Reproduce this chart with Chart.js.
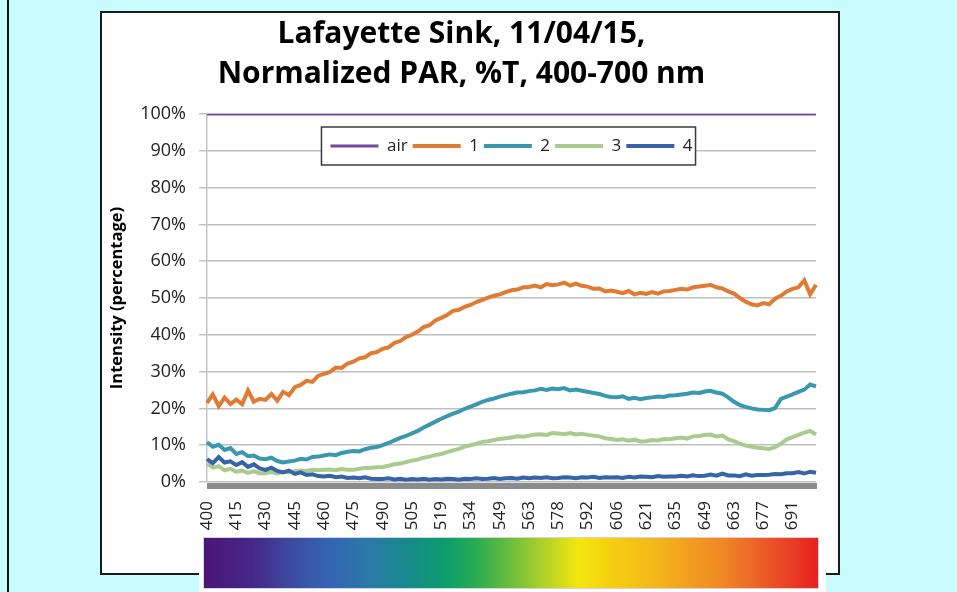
<!DOCTYPE html>
<html>
<head>
<meta charset="utf-8">
<script src="https://cdn.jsdelivr.net/npm/chart.js@4.4.1/dist/chart.umd.min.js"></script>
<style>
  html, body { margin: 0; padding: 0; }
  body { width: 957px; height: 592px; background: #C8FCFE; position: relative; overflow: hidden; font-family: "Open Sans", sans-serif; }
  #leftline { position: absolute; left: 7px; top: 0; width: 2px; height: 592px; background: #111; }
  #box { position: absolute; left: 100px; top: 11px; width: 736px; height: 560px; border: 2px solid #1a1a1a; background: #fff; }
  #box canvas { position: absolute; left: 0; top: 0; }
  #specback { position: absolute; left: 199px; top: 536px; width: 627px; height: 56px; background: #fff; }
  #spectrum { position: absolute; left: 203px; top: 537px; width: 614px; height: 50px; border: 1px solid #d8d0e0;
    background: linear-gradient(to right, #4A1675 0%, #46288A 8%, #3B4FA3 15%, #3466B5 21%, #2A7AA6 27%, #17898D 33%, #0C9C6E 39%, #25AC52 44%, #6DBE3C 50%, #B8D424 56%, #F3E70D 61%, #F5D010 66%, #F4B91A 73%, #F29E20 79%, #F08A24 84%, #EC6A28 89%, #EA4826 94%, #E72020 100%); }
</style>
</head>
<body>
<div id="leftline"></div>
<div id="box"><canvas id="c" width="736" height="560"></canvas></div>
<div id="specback"></div>
<div id="spectrum"></div>
<script>
// ---- data ----
const tickLabels = [400,415,430,445,460,475,490,505,519,534,549,563,578,592,606,621,635,649,663,677,691];

const wavelengths = [
  400,403,406,409,412, 415,418,421,424,427, 430,433,436,439,442, 445,448,451,454,457,
  460,463,466,469,472, 475,478,481,484,487, 490,493,496,499,502, 505,508,511,513,516,
  519,522,525,528,531, 534,537,540,543,546, 549,552,555,557,560, 563,566,569,572,575,
  578,581,584,586,589, 592,595,598,600,603, 606,609,612,615,618, 621,624,627,629,632,
  635,638,641,643,646, 649,652,655,657,660, 663,666,669,671,674, 677,680,683,685,688,
  691,694,697,699,702
];

const seriesNames = ['air','1','2','3','4'];

const airValues = [
  100,100,100,100,100, 100,100,100,100,100, 100,100,100,100,100, 100,100,100,100,100,
  100,100,100,100,100, 100,100,100,100,100, 100,100,100,100,100, 100,100,100,100,100,
  100,100,100,100,100, 100,100,100,100,100, 100,100,100,100,100, 100,100,100,100,100,
  100,100,100,100,100, 100,100,100,100,100, 100,100,100,100,100, 100,100,100,100,100,
  100,100,100,100,100, 100,100,100,100,100, 100,100,100,100,100, 100,100,100,100,100,
  100,100,100,100,100
];

const s1Values = [
  21.5,23.8,20.6,22.9,21.2, 22.4,21.1,24.9,21.8,22.6, 22.3,23.9,22.1,24.5,23.6, 25.8,26.4,27.5,27.2,28.9,
  29.4,29.9,31.1,31.0,32.2, 32.7,33.6,33.9,35.0,35.3, 36.2,36.6,37.8,38.3,39.4, 40.0,40.9,42.1,42.6,43.9,
  44.6,45.4,46.5,46.8,47.6, 48.1,48.9,49.5,50.1,50.6, 51.0,51.6,52.1,52.3,52.9, 53.0,53.4,52.9,53.8,53.5,
  53.7,54.2,53.4,53.9,53.3, 53.1,52.5,52.6,51.8,52.0, 51.7,51.3,51.9,51.0,51.4, 51.1,51.6,51.2,51.8,51.9,
  52.2,52.5,52.3,52.9,53.1, 53.3,53.6,52.9,52.6,51.8, 51.2,50.0,49.0,48.3,48.0, 48.6,48.3,49.8,50.6,51.8,
  52.5,52.9,54.8,51.0,53.6
];

const s2Values = [
  10.8,9.6,10.1,8.7,9.2, 7.6,8.1,7.0,7.2,6.4, 6.2,6.6,5.7,5.3,5.6, 5.8,6.3,6.1,6.8,6.9,
  7.2,7.5,7.3,7.9,8.2, 8.4,8.3,8.9,9.3,9.5, 10.0,10.6,11.3,12.0,12.5, 13.2,13.9,14.8,15.6,16.4,
  17.2,17.9,18.6,19.1,19.9, 20.5,21.1,21.8,22.3,22.7, 23.2,23.6,24.0,24.3,24.4, 24.7,24.9,25.3,25.0,25.4,
  25.2,25.5,24.9,25.1,24.8, 24.5,24.2,23.9,23.4,23.1, 23.0,23.3,22.6,22.9,22.5, 22.8,23.0,23.2,23.1,23.5,
  23.6,23.8,24.0,24.3,24.2, 24.6,24.8,24.3,24.0,23.0, 21.8,20.9,20.4,20.0,19.7, 19.6,19.5,20.1,22.6,23.2,
  23.8,24.5,25.1,26.5,26.0
];

const s3Values = [
  5.0,3.9,4.3,3.2,3.6, 2.8,3.1,2.5,2.9,2.4, 2.4,2.7,2.3,2.8,2.6, 2.9,3.1,3.0,3.3,3.2,
  3.3,3.4,3.2,3.5,3.3, 3.3,3.6,3.8,3.9,4.0, 4.1,4.4,4.8,5.0,5.4, 5.8,6.1,6.6,6.9,7.3,
  7.6,8.1,8.6,9.0,9.6, 10.0,10.4,10.9,11.1,11.4, 11.7,11.9,12.1,12.4,12.3, 12.6,12.9,13.0,12.8,13.3,
  13.2,13.0,13.3,12.9,13.1, 12.8,12.6,12.4,11.9,11.7, 11.4,11.6,11.2,11.5,11.0, 11.1,11.4,11.3,11.7,11.6,
  11.9,12.1,11.8,12.4,12.5, 12.8,12.9,12.4,12.6,11.6, 11.1,10.4,9.9,9.6,9.3, 9.2,9.0,9.5,10.4,11.6,
  12.2,12.8,13.4,13.9,12.9
];

const s4Values = [
  6.2,5.1,6.8,5.3,5.6, 4.6,5.4,4.1,4.8,3.7, 3.3,3.9,3.0,2.6,3.1, 2.2,2.6,1.9,2.1,1.6,
  1.5,1.7,1.3,1.5,1.1, 1.2,1.0,1.3,0.9,0.8, 0.8,1.0,0.7,0.9,0.6, 0.8,0.7,0.9,0.6,0.8,
  0.7,0.9,0.8,0.6,0.9, 0.8,1.0,0.8,0.9,1.1, 0.8,1.0,1.1,0.9,1.2, 1.0,1.2,1.1,1.3,1.0,
  1.1,1.3,1.2,1.0,1.3, 1.2,1.4,1.1,1.3,1.2, 1.3,1.1,1.4,1.2,1.5, 1.4,1.3,1.6,1.4,1.5,
  1.5,1.7,1.5,1.8,1.6, 1.7,2.0,1.7,2.3,1.8, 1.8,1.6,2.1,1.7,1.9, 1.9,2.0,2.2,2.1,2.4,
  2.4,2.7,2.3,2.8,2.5
];

const yTicks = [0,10,20,30,40,50,60,70,80,90,100];

// ---- styles ----
const colors = ['#7049A0', '#E07B34', '#3A98AE', '#AACB8E', '#3565A8'];
const widths = [3, 4, 4, 4, 4];
const allValues = [airValues, s1Values, s2Values, s3Values, s4Values];
const FONT = '"Open Sans", Lato, sans-serif';

const datasets = seriesNames.map((name, i) => ({
  label: name,
  data: allValues[i],
  borderColor: colors[i],
  backgroundColor: colors[i],
  borderWidth: widths[i],
  pointRadius: 0,
  tension: 0,
  fill: false,
  order: seriesNames.length - i
}));

// Legend: placed inside the plot area with a white, bordered box.
const LEGEND_OFFSET = 18.5;
const legendBoxPlugin = {
  id: 'legendBox',
  afterInit(chart) {
    const lg = chart.legend;
    if (!lg || lg._boxPatched) return;
    const origFit = lg.fit;
    lg.fit = function () {
      origFit.apply(this, arguments);
      this.height = 0;           // take no layout space
    };
    const origDraw = lg.draw;
    lg.draw = function () {
      const ctx = this.ctx;
      const pad = this.options.labels.padding;
      const lw = this.lineWidths[0];
      const startX = (this.left + pad + this.right - lw) / 2;
      const x0 = startX - 9, x1 = startX + lw - pad + 3;
      const y0 = this.top - 5.5, y1 = this.top + 32.5;
      ctx.save();
      ctx.fillStyle = '#ffffff';
      ctx.fillRect(x0, y0, x1 - x0, y1 - y0);
      ctx.strokeStyle = '#3a3a3a';
      ctx.lineWidth = 1.5;
      ctx.strokeRect(x0, y0, x1 - x0, y1 - y0);
      ctx.restore();
      return origDraw.apply(this, arguments);
    };
    lg._boxPatched = true;
  },
  afterLayout(chart) {
    const lg = chart.legend;
    if (!lg) return;
    const ca = chart.chartArea;
    lg.left = ca.left;
    lg.right = ca.right;
    lg.width = ca.right - ca.left;
    lg.top = ca.top + LEGEND_OFFSET;
    lg.height = 40;
    lg.bottom = lg.top + 40;
  },
  // thick grey category-axis line just below the plot area
  beforeDatasetsDraw(chart) {
    const ca = chart.chartArea;
    const ctx = chart.ctx;
    ctx.save();
    ctx.fillStyle = '#8C8C8C';
    ctx.fillRect(ca.left, ca.bottom + 1, ca.right - ca.left + 1, 6);
    ctx.restore();
  }
};

new Chart(document.getElementById('c'), {
  type: 'line',
  data: { labels: wavelengths, datasets },
  plugins: [legendBoxPlugin],
  options: {
    responsive: false,
    animation: false,
    events: [],
    layout: { padding: { left: 5, right: 22, top: 0, bottom: 0 } },
    plugins: {
      title: {
        display: true,
        text: ['Lafayette Sink, 11/04/15,', 'Normalized PAR, %T, 400-700 nm'],
        color: '#000',
        font: { family: FONT, size: 30, weight: 'bold', lineHeight: 1.3333 },
        padding: { top: 1, bottom: 20 }
      },
      legend: {
        position: 'top',
        align: 'center',
        labels: {
          usePointStyle: true,
          pointStyle: 'line',
          pointStyleWidth: 48,
          padding: 5,
          color: '#222',
          font: { family: FONT, size: 17 },
          sort: (a, b) => a.datasetIndex - b.datasetIndex
        }
      },
      tooltip: { enabled: false }
    },
    scales: {
      x: {
        type: 'category',
        offset: false,
        grid: { display: false, drawTicks: false },
        border: { display: false },
        afterBuildTicks: (axis) => {
          axis.ticks = axis.ticks.filter(t => tickLabels.includes(wavelengths[t.value]));
        },
        afterFit: (scale) => { scale.height = 91; },
        ticks: {
          autoSkip: false,
          minRotation: 90,
          maxRotation: 90,
          padding: 19,
          color: '#222',
          font: { family: FONT, size: 17 }
        }
      },
      y: {
        min: 0,
        max: 100,
        afterBuildTicks: (axis) => { axis.ticks = yTicks.map(v => ({ value: v })); },
        afterFit: (scale) => { scale.width = 100; },
        grid: { color: '#BFBFBF', lineWidth: 1.4, tickLength: 8 },
        border: { display: true, color: '#BFBFBF', width: 1.4 },
        ticks: {
          padding: 13,
          color: '#222',
          font: { family: FONT, size: 18 },
          callback: (v) => v + '%'
        },
        title: {
          display: true,
          text: 'Intensity (percentage)',
          color: '#000',
          font: { family: FONT, size: 16.5, weight: 'bold' },
          padding: 0
        }
      }
    }
  }
});
</script>
</body>
</html>
